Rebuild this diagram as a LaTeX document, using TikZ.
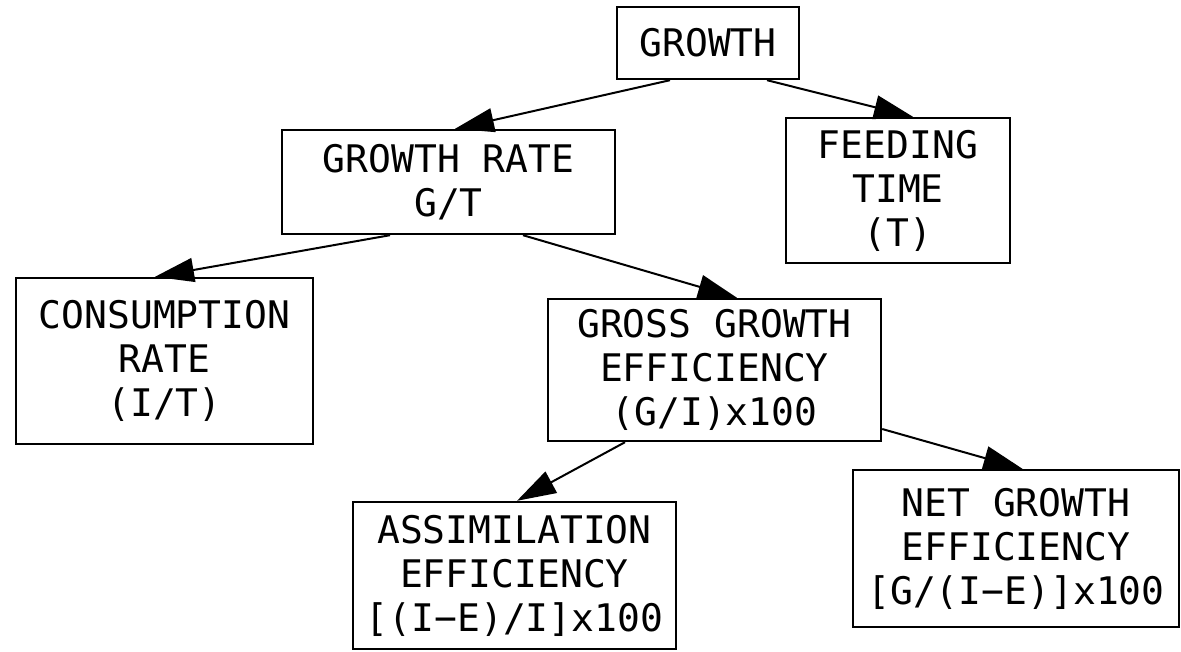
\documentclass[tikz,border=0pt]{standalone}
\usepackage{fontspec}
\setmonofont{DejaVu Sans Mono}
\usetikzlibrary{arrows.meta}
\begin{document}
\begin{tikzpicture}[x=1pt,y=-1pt,
  box/.style={draw, line width=2.4pt, inner sep=0pt, align=center,
    font=\ttfamily\fontsize{38}{44}\selectfont},
  link/.style={line width=2pt, -{Triangle[length=39pt,width=24pt]}}]
\useasboundingbox (0,0) rectangle (1181,651);
\node[box, minimum width=182pt, minimum height=72pt] (g) at (708,43) {GROWTH};
\node[box, minimum width=333pt, minimum height=104pt] (gr) at (448.5,182) {GROWTH RATE\\G/T};
\node[box, minimum width=224pt, minimum height=145pt] (ft) at (898,190.5) {FEEDING\\TIME\\(T)};
\node[box, minimum width=297pt, minimum height=166pt] (cr) at (164.5,361) {CONSUMPTION\\RATE\\(I/T)};
\node[box, minimum width=333pt, minimum height=142pt] (gge) at (714.5,370) {GROSS GROWTH\\EFFICIENCY\\(G/I)x100};
\node[box, minimum width=323pt, minimum height=147pt] (ae) at (514.5,575.5) {ASSIMILATION\\EFFICIENCY\\{[}(I−E)/I{]}x100};
\node[box, minimum width=326pt, minimum height=157pt] (ng) at (1016,548.5) {NET GROWTH\\EFFICIENCY\\{[}G/(I−E){]}x100};
\draw[link] ([xshift=-38pt]g.south) -- ([xshift=6.5pt]gr.north);
\draw[link] ([xshift=59pt]g.south) -- ([xshift=15pt]ft.north);
\draw[link] ([xshift=-58.5pt]gr.south) -- ([xshift=-9.5pt]cr.north);
\draw[link] ([xshift=74.5pt]gr.south) -- ([xshift=22.5pt]gge.north);
\draw[link] ([xshift=-89.5pt]gge.south) -- ([xshift=2.5pt]ae.north);
\draw[link] ([yshift=-59pt]gge.east) -- ([xshift=6.5pt]ng.north);
\end{tikzpicture}
\end{document}
